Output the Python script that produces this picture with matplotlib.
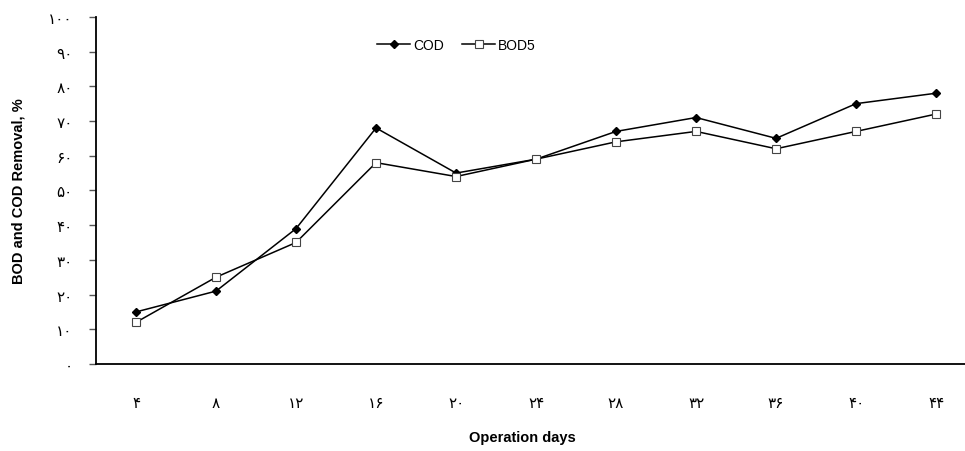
import matplotlib.pyplot as plt

# Data
days = ['۴', '۸', '۱۲', '۱۶', '۲۰', '۲۴', '۲۸', '۳۲', '۳۶', '۴۰', '۴۴']
cod = [15, 21, 39, 68, 55, 59, 67, 71, 65, 75, 78]
bod5 = [12, 25, 35, 58, 54, 59, 64, 67, 62, 67, 72]
yticks = [0, 10, 20, 30, 40, 50, 60, 70, 80, 90, 100]
ylabels = ['۰', '۱۰', '۲۰', '۳۰', '۴۰', '۵۰', '۶۰', '۷۰', '۸۰', '۹۰', '۱۰۰']

plt.rcParams['font.family'] = ['Liberation Sans', 'DejaVu Sans']

fig = plt.figure(figsize=(9.65, 4.52), dpi=100)
ax = fig.add_axes([0.0995, 0.1925, 0.912, 0.768])

x = range(len(days))
ax.plot(x, cod, color='black', lw=1.1, marker='D', ms=4.5, mfc='black', mec='black', label='COD')
ax.plot(x, bod5, color='black', lw=1.1, marker='s', ms=5.5, mfc='white', mec='#444444', mew=0.8, label='BOD5')

ax.set_xlim(-0.5, len(days) - 0.5)
ax.set_ylim(0, 100)
ax.set_xticks(list(x))
ax.set_xticklabels(days, family=['DejaVu Sans'], fontsize=11)
ax.set_yticks(yticks)
ax.set_yticklabels(ylabels, family=['DejaVu Sans'], fontsize=11)
ax.tick_params(axis='x', length=0, pad=22)
ax.tick_params(axis='y', length=5, width=1, color='#555555', pad=12)

for s in ['top', 'right']:
    ax.spines[s].set_visible(False)
for s in ['left', 'bottom']:
    ax.spines[s].set_linewidth(1.3)

ax.set_xlabel('Operation days', fontsize=10.5, fontweight='bold')
ax.xaxis.set_label_coords(0.484, -0.19)
ax.set_ylabel('BOD and COD Removal, %', fontsize=10.5, fontweight='bold')
ax.yaxis.set_label_coords(-0.08, 0.5)

ax.legend(loc='upper left', bbox_to_anchor=(0.305, 0.975), ncol=2, frameon=False,
          fontsize=10, handlelength=2.4, handletextpad=0.2, columnspacing=1.3)

fig.savefig('out.png', dpi=100)
